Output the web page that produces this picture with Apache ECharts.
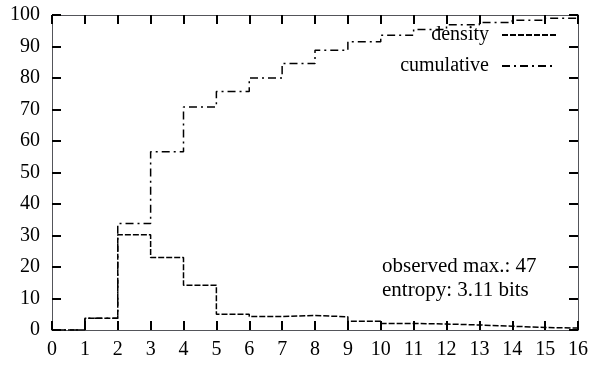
<!DOCTYPE html>
<html><head><meta charset="utf-8">
<script src="https://cdn.jsdelivr.net/npm/echarts@6/dist/echarts.min.js"></script>
<style>html,body{margin:0;padding:0;background:#fff}#c{width:592px;height:365px}</style>
</head><body><div id="c"></div>
<script>
// bin edges 0..16 ; value for bin [i, i+1]
const binStarts = [0,1,2,3,4,5,6,7,8,9,10,11,12,13,14,15];
const density = [0,3.7,30.2,23.0,14.2,5.0,4.3,4.6,4.2,2.8,2.1,1.9,1.6,1.2,0.8,0.6];
const cumulative = [0,3.7,33.8,56.6,70.8,75.7,80.0,84.6,88.8,91.5,93.6,95.4,96.9,97.6,98.3,99.0];
const xTicks = [0,16,1];
const yTicks = [0,100,10];
const notes = ['observed max.: 47', 'entropy: 3.11 bits'];

function stepData(vals){
  const d = binStarts.map((x,i)=>[x, vals[i]]);
  d.push([binStarts[binStarts.length-1]+1, vals[vals.length-1]]);
  return d;
}
const font = 'Liberation Serif';
const chart = echarts.init(document.getElementById('c'));
const lbl = {color:'#000', fontFamily:font, fontSize:20};
function base(pos, isX, showLabel){
  const r = isX ? xTicks : yTicks;
  return {type:'value', min:r[0], max:r[1], interval:r[2], position:pos,
    axisLine:{show:true, onZero:false},
    axisTick:{show:true, inside:true, length:9, lineStyle:{color:'#000', width:2}},
    splitLine:{show:false},
    axisLabel: showLabel ? Object.assign({margin: isX?10:12}, lbl) : {show:false}};
}
chart.setOption({
  animation:false,
  grid:{left:52, right:14, top:15, bottom:35},
  xAxis:[base('bottom',true,true), base('top',true,false)],
  yAxis:[base('left',false,true), base('right',false,false)],
  legend:{
    orient:'vertical', right:30, top:20, align:'right',
    itemWidth:54, itemHeight:14, itemGap:11,
    itemStyle:{opacity:0},
    textStyle:{color:'#000', fontFamily:font, fontSize:20, padding:[0,8,0,0]},
    data:['density','cumulative']
  },
  series:[
    {name:'density', type:'line', step:'end', data:stepData(density), symbol:'none',
      lineStyle:{color:'#000', width:1.5, type:[6,2]}, itemStyle:{color:'#000'}},
    {name:'cumulative', type:'line', step:'end', data:stepData(cumulative), symbol:'none',
      lineStyle:{color:'#000', width:1.5, type:[8,4,2,4]}, itemStyle:{color:'#000'}}
  ],
  graphic:[
    {type:'text', left:382, top:256, style:{text:notes[0], fill:'#000', font:'21px "Liberation Serif"'}},
    {type:'text', left:382, top:280, style:{text:notes[1], fill:'#000', font:'21px "Liberation Serif"'}}
  ]
});
</script></body></html>
